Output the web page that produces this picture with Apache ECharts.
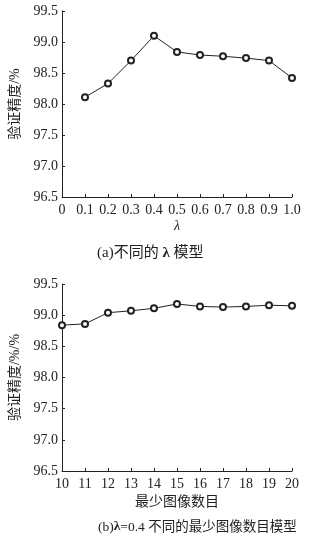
<!DOCTYPE html>
<html><head><meta charset="utf-8">
<script src="https://cdn.jsdelivr.net/npm/echarts@6/dist/echarts.min.js"></script>
<style>html,body{margin:0;padding:0;background:#fff}#c{width:331px;height:540px}</style>
</head><body><div id="c"></div>
<script>
const lambdaVals = [0.1, 0.2, 0.3, 0.4, 0.5, 0.6, 0.7, 0.8, 0.9, 1.0];
const accA = [98.11, 98.33, 98.70, 99.10, 98.84, 98.79, 98.77, 98.74, 98.70, 98.42];
const minImages = [10, 11, 12, 13, 14, 15, 16, 17, 18, 19, 20];
const accB = [98.84, 98.86, 99.04, 99.07, 99.11, 99.18, 99.14, 99.13, 99.14, 99.16, 99.15];
const yLabelA = '验证精度/%';
const yLabelB = '验证精度/%/%';
const xLabelA = 'λ';
const xLabelB = '最少图像数目';
const captionA = ['(a)不同的 ', 'λ', ' 模型'];
const captionB = ['(b)', 'λ', '=0.4 不同的最少图像数目模型'];

const serif = '"Liberation Serif","DejaVu Serif",serif';
const cjk = '"Liberation Serif","Noto Sans CJK SC",serif';
const chart = echarts.init(document.getElementById('c'), null, {renderer: 'canvas'});

function yAxis(idx, name) {
  return {
    type: 'value', gridIndex: idx, min: 96.5, max: 99.5, interval: 0.5,
    name: name, nameLocation: 'middle', nameGap: 40, nameRotate: 90,
    nameTextStyle: {fontFamily: cjk, fontSize: 14, color: '#222'},
    axisLine: {show: true, lineStyle: {color: '#222', width: 1}},
    axisTick: {show: true, inside: true, length: 3, lineStyle: {color: '#222'}},
    axisLabel: {fontFamily: serif, fontSize: 14, color: '#222', margin: 4,
      formatter: v => v.toFixed(1)},
    splitLine: {show: false}
  };
}
function xAxis(idx, min, max, interval, name, fmt, italic, gap) {
  return {
    type: 'value', gridIndex: idx, min: min, max: max, interval: interval,
    name: name, nameLocation: 'middle', nameGap: gap,
    nameTextStyle: {fontFamily: cjk, fontSize: 14, color: '#222', fontStyle: italic ? 'italic' : 'normal'},
    axisLine: {show: true, onZero: false, lineStyle: {color: '#222', width: 1}},
    axisTick: {show: true, inside: true, length: 3, lineStyle: {color: '#222'}},
    axisLabel: {fontFamily: serif, fontSize: 14, color: '#222', margin: 6, formatter: fmt},
    splitLine: {show: false}
  };
}
const lineStyleCommon = {
  type: 'line', symbol: 'emptyCircle', symbolSize: 6, showSymbol: true, showAllSymbol: true,
  lineStyle: {color: '#222', width: 1},
  itemStyle: {color: '#222', borderColor: '#222', borderWidth: 0.9},
  animation: false
};
function caption(parts, size) {
  return '{n|' + parts[0] + '}{b|' + parts[1] + '}{n|' + parts[2] + '}';
}
function capRich(size) {
  return {
    n: {fontFamily: cjk, fontSize: size, fill: '#222', color: '#222'},
    b: {fontFamily: serif, fontSize: size, fontWeight: 'bold', fill: '#222', color: '#222'}
  };
}

chart.setOption({
  backgroundColor: '#fff',
  animation: false,
  grid: [
    {left: 57, top: 11, width: 235, height: 186},
    {left: 57, top: 284, width: 235, height: 187}
  ],
  xAxis: [
    xAxis(0, 0, 1, 0.1, xLabelA, v => { const r = Math.round(v * 10) / 10; return r === 0 ? '0' : r.toFixed(1); }, true, 22),
    xAxis(1, 10, 20, 1, xLabelB, v => String(Math.round(v)), false, 24)
  ],
  yAxis: [yAxis(0, yLabelA), yAxis(1, yLabelB)],
  series: [
    Object.assign({xAxisIndex: 0, yAxisIndex: 0, data: lambdaVals.map((x, i) => [x, accA[i]])}, lineStyleCommon),
    Object.assign({xAxisIndex: 1, yAxisIndex: 1, data: minImages.map((x, i) => [x, accB[i]])}, lineStyleCommon)
  ],
  graphic: [
    {type: 'text', left: 97, top: 246, style: {text: caption(captionA), rich: capRich(15), font: '15px ' + cjk, fill: '#222'}},
    {type: 'text', left: 98, top: 520, style: {text: caption(captionB), rich: capRich(13.5), font: '13.5px ' + cjk, fill: '#222'}}
  ]
});
</script></body></html>
